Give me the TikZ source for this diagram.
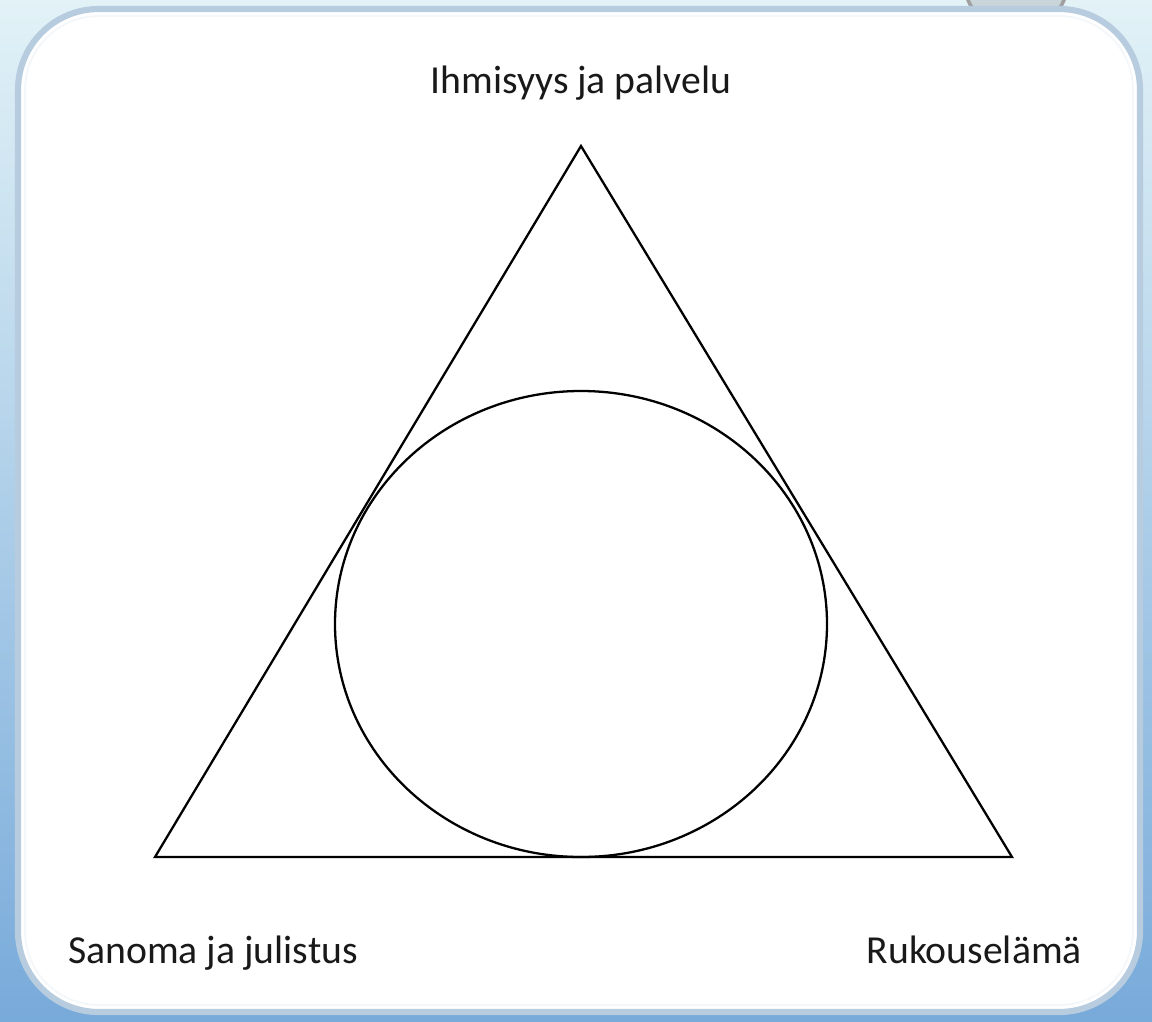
\documentclass[tikz,border=0pt]{standalone}
\usepackage{fontspec}
\setmainfont{Carlito}
\usetikzlibrary{positioning}
\definecolor{bgtop}{RGB}{226,242,247}
\definecolor{bgmid}{RGB}{196,224,240}
\definecolor{bgbottom}{RGB}{120,170,218}
\definecolor{panelrim}{RGB}{184,204,224}
\begin{document}
\begin{tikzpicture}[x=0.02cm,y=-0.02cm,
    corner/.style={font=\fontsize{22.6}{27}\selectfont, text=black!90},
    edge/.style={line width=1.3pt, black}]
  \useasboundingbox (0,0) rectangle (1152,1021);
  \clip (0,0) rectangle (1152,1021);
  % background
  \shade[top color=bgtop, middle color=bgmid, bottom color=bgbottom] (0,0) rectangle (1152,1021);
  \draw[gray!75, line width=2pt, fill=gray!25!bgtop] (1016,-20) circle (52);
  % white panel
  \draw[panelrim, line width=3.5pt, fill=white, rounded corners=46] (18,9) rectangle (1140,1012);
  \draw[white!85!panelrim, line width=1pt, rounded corners=42] (25,16) rectangle (1133,1005);
  % triangle corners
  \coordinate (top) at (581,146);
  \coordinate (left) at (155,857);
  \coordinate (right) at (1012,857);
  \draw[edge, line join=miter] (top) -- (left) -- (right) -- cycle;
  % inscribed ring
  \draw[edge] (581,624) ellipse [x radius=246, y radius=233];
  % labels
  \node[corner, anchor=base] (service) at (581,93) {Ihmisyys ja palvelu};
  \node[corner, anchor=base west] (message) at (62,963) {Sanoma ja julistus};
  \node[corner, anchor=base east] (prayer) at (1088,963) {Rukouselämä};
\end{tikzpicture}
\end{document}
